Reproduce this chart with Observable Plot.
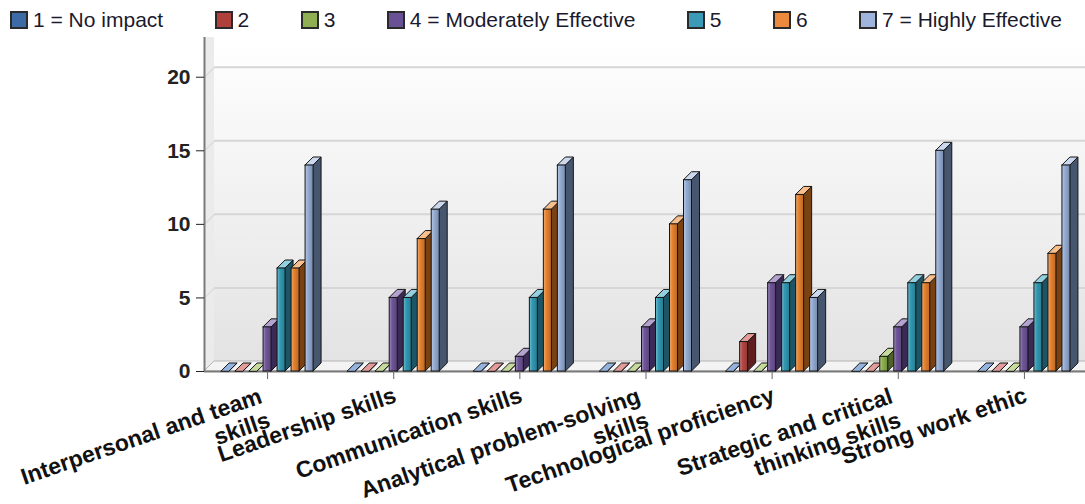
<!DOCTYPE html>
<html><head><meta charset="utf-8">
<script src="https://cdn.jsdelivr.net/npm/d3@7"></script>
<script src="https://cdn.jsdelivr.net/npm/@observablehq/plot@0.6"></script>
<style>
body{margin:0;background:#fff;font-family:"Liberation Sans",Arial,sans-serif;}
#legend{display:flex;justify-content:space-between;align-items:center;height:36px;padding:4px 23px 0 10px;box-sizing:border-box;width:1085px;}
.item{display:flex;align-items:center;font-size:21px;color:#1a1a2e;white-space:nowrap;}
.sw{width:14px;height:14px;border:2px solid #2a2a2a;margin-right:5px;}
#chart svg{display:block;}
</style></head><body>
<div id="legend"></div><div id="chart"></div>
<script>
// ---- data ----
const categories = ["Interpersonal and team skills","Leadership skills","Communication skills","Analytical problem-solving skills","Technological proficiency","Strategic and critical thinking skills","Strong work ethic"];
const seriesNames = ["1 = No impact","2","3","4 = Moderately Effective","5","6","7 = Highly Effective"];
const s1 = [0,0,0,0,0,0,0];
const s2 = [0,0,0,0,2,0,0];
const s3 = [0,0,0,0,0,1,0];
const s4 = [3,5,1,3,6,3,3];
const s5 = [7,5,5,5,6,6,6];
const s6 = [7,9,11,10,12,6,8];
const s7 = [14,11,14,13,5,15,14];
const yTicks = [0,5,10,15,20];

// ---- styles ----
const frontColors = ["#4F81BD","#B54744","#8DB04E","#70559A","#3299B3","#E6822F","#95ACD4"];
const topColors   = ["#95B3DF","#E39C9A","#C6DA9E","#B3A2CF","#92D0E0","#F8BE8C","#CBD8EE"];
const sideColors  = ["#2C4A70","#5E1F1E","#4E6327","#3A2A55","#1C5666","#7A4212","#46566F"];
const legendColors= ["#3D6BA6","#B0403B","#8FAF52","#6A5095","#3B9AB5","#EA8A3C","#9FB5DC"];

const values = [s1,s2,s3,s4,s5,s6,s7];

// legend
const leg = document.getElementById("legend");
seriesNames.forEach((n,j)=>{
  const it=document.createElement("div");it.className="item";
  const sw=document.createElement("span");sw.className="sw";sw.style.background=legendColors[j];
  it.appendChild(sw);it.appendChild(document.createTextNode(n));leg.appendChild(it);
});

// geometry (pixels -> data units)
const W=1085,H=468, xR=[204,1087], y0px=335, yTopPx=1, yMax=22.7;
const kx=(xR[1]-xR[0])/7, ky=(y0px-yTopPx)/yMax;
const step=14/kx, bw=8/kx, dX=8/kx, dY=8/ky, wX=10/kx, wY=10/ky;
const xmin=-0.5, xmax=6.5;

const rows=[];
categories.forEach((c,i)=>values.forEach((vals,j)=>{
  const xc=i+(j-3)*step;
  rows.push({id:i*7+j,i,j,v:vals[i],xl:xc-bw/2,xr:xc+bw/2});
}));
const sidePts=rows.flatMap(r=>[{id:r.id,j:r.j,x:r.xr,y1:0,y2:r.v},{id:r.id,j:r.j,x:r.xr+dX,y1:dY,y2:r.v+dY}]);
const topPts=rows.flatMap(r=>[{id:r.id,j:r.j,y:r.v,x1:r.xl,x2:r.xr},{id:r.id,j:r.j,y:r.v+dY,x1:r.xl+dX,x2:r.xr+dX}]);

function wrap(s,max=26){const w=s.split(" ");const lines=[];let cur="";for(const t of w){if(cur&&(cur+" "+t).length>max){lines.push(cur);cur=t;}else cur=cur?cur+" "+t:t;}lines.push(cur);return lines.join("\n");}
const labels=categories.map(c=>wrap(c));
const idx=categories.map((c,i)=>i);
const single=idx.filter(i=>!labels[i].includes("\n"));
const multi=idx.filter(i=>labels[i].includes("\n"));

const floorPts=[{x:xmin,y1:0,y2:0},{x:xmin+wX,y1:0,y2:wY},{x:xmax,y1:0,y2:wY}];
const leftWall=[{x:xmin,y1:0,y2:yMax},{x:xmin+wX,y1:wY,y2:yMax}];
const textOpts={x:i=>i,y:()=>0,rotate:-19,textAnchor:"end",lineAnchor:"top",fontSize:23,fontWeight:"bold",fill:"#111",lineHeight:1.1};

const svg=Plot.plot({
  width:W,height:H,marginLeft:xR[0],marginRight:0,marginTop:yTopPx,marginBottom:H-y0px,
  style:{fontFamily:"'Liberation Sans',Arial,sans-serif",background:"transparent",overflow:"visible"},
  x:{type:"linear",domain:[xmin,xmax],range:xR},
  y:{domain:[0,yMax],range:[y0px,yTopPx]},
  color:{type:"identity"},
  marks:[
    Plot.rect([0],{x1:xmin+wX,x2:xmax+0.2,y1:wY,y2:yMax,fill:()=>"url(#wallGrad)"}),
    Plot.areaY(leftWall,{x:"x",y1:"y1",y2:"y2",fill:()=>"#ebebeb",curve:"linear"}),
    Plot.areaY(floorPts,{x:"x",y1:"y1",y2:"y2",fill:()=>"#f3f3f3",stroke:"#b5b5b5",strokeWidth:1,curve:"linear"}),
    Plot.ruleY(yTicks.filter(v=>v>0),{y:v=>v+wY,x1:xmin+wX,x2:xmax+0.2,stroke:"#d6d6d6",strokeWidth:2}),
    Plot.link(yTicks.filter(v=>v>0),{x1:()=>xmin,y1:v=>v,x2:()=>xmin+wX,y2:v=>v+wY,stroke:"#dcdcdc",strokeWidth:1.5}),
    Plot.ruleX([xmin],{y1:0,y2:yMax,stroke:"#7a7a7a",strokeWidth:2}),
    Plot.ruleY([0],{x1:xmin,x2:xmax+0.2,stroke:"#7a7a7a",strokeWidth:2}),
    Plot.areaY(sidePts,{x:"x",y1:"y1",y2:"y2",z:"id",fill:d=>sideColors[d.j],stroke:"#151515",strokeWidth:1,curve:"linear"}),
    Plot.areaX(topPts,{y:"y",x1:"x1",x2:"x2",z:"id",fill:d=>topColors[d.j],stroke:"#151515",strokeWidth:1,curve:"linear"}),
    Plot.rect(rows,{x1:"xl",x2:"xr",y1:()=>0,y2:"v",fill:d=>`url(#fg${d.j})`,stroke:"#151515",strokeWidth:1}),
    Plot.axisY(yTicks,{tickSize:8,tickPadding:6,fontSize:21,fontWeight:"bold",color:"#222",label:null}),
    Plot.axisX(idx,{tickSize:8,tickFormat:()=>"",color:"#666",label:null}),
    Plot.text(single,{...textOpts,text:i=>labels[i],dx:-2,dy:13}),
    Plot.text(multi,{...textOpts,text:i=>labels[i],dx:-10,dy:14})
  ]
});

// gradients
const ns="http://www.w3.org/2000/svg";
const defs=document.createElementNS(ns,"defs");
function grad(id,stops,vertical){
  const g=document.createElementNS(ns,"linearGradient");g.setAttribute("id",id);
  g.setAttribute("x1","0");g.setAttribute("y1","0");g.setAttribute("x2",vertical?"0":"1");g.setAttribute("y2",vertical?"1":"0");
  stops.forEach(([o,c])=>{const s=document.createElementNS(ns,"stop");s.setAttribute("offset",o);s.setAttribute("stop-color",c);g.appendChild(s);});
  defs.appendChild(g);
}
grad("wallGrad",[["0","#ffffff"],["1","#e3e3e3"]],true);
frontColors.forEach((c,j)=>{
  const b=d3.color(c);
  grad("fg"+j,[["0",d3.interpolateRgb(c,"#ffffff")(0.35)],["0.35",c],["1",b.darker(0.6).formatHex()]],false);
});
svg.insertBefore(defs,svg.firstChild);
document.getElementById("chart").appendChild(svg);
</script>
</body></html>
